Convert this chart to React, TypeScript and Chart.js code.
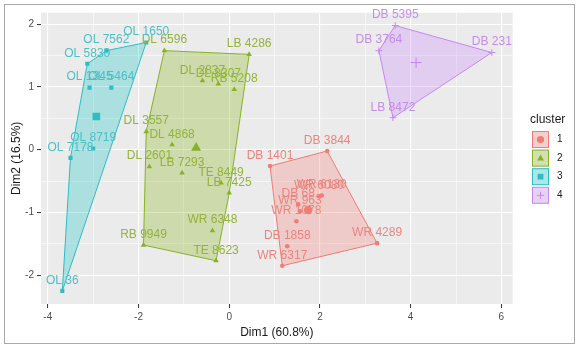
import React, { useEffect, useRef } from 'react';
import { Chart, registerables } from 'chart.js';

Chart.register(...registerables);

// ---- data ----
const COLORS = ['#F07C74', '#88B224', '#2BBFC4', '#C687F5'];
const LABEL_COLORS = ['#EC847D', '#93B33A', '#4BC0C5', '#C48DEC'];
const FILLS = ['rgba(248,118,109,0.27)', 'rgba(124,174,0,0.27)', 'rgba(0,191,196,0.27)', 'rgba(199,124,255,0.27)'];
const CLUSTER_NAMES = ['1', '2', '3', '4'];

const C1_LABELS = ['DB 1401', 'DB 3844', 'WR 6080', 'WR 6130', 'DB 68', 'WR 963', 'WR 1078', 'DB 1858', 'WR 6317', 'WR 4289'];
const C1_X = [0.90, 2.16, 1.98, 2.04, 1.52, 1.56, 1.48, 1.28, 1.17, 3.26];
const C1_Y = [-0.26, -0.02, -0.74, -0.73, -0.87, -0.98, -1.14, -1.54, -1.85, -1.49];
const C1_HULL = ['DB 1401', 'DB 3844', 'WR 4289', 'WR 6317'];

const C2_LABELS = ['DL 6596', 'LB 4286', 'DL 2837', 'DL 8307', 'RB 5208', 'DL 3557', 'DL 4868', 'DL 2601', 'LB 7293', 'TE 8449', 'LB 7425', 'WR 6348', 'TE 8623', 'RB 9949'];
const C2_X = [-1.43, 0.44, -0.59, -0.24, 0.11, -1.83, -1.26, -1.76, -1.04, -0.18, 0.00, -0.37, -0.29, -1.89];
const C2_Y = [1.58, 1.52, 1.10, 1.05, 0.96, 0.29, 0.08, -0.27, -0.37, -0.53, -0.69, -1.29, -1.77, -1.52];
const C2_HULL = ['DL 6596', 'LB 4286', 'LB 7425', 'TE 8623', 'RB 9949', 'DL 3557'];

const C3_LABELS = ['OL 1650', 'OL 7562', 'OL 5830', 'OL 1345', 'OL 5464', 'OL 8719', 'OL 7178', 'OL 36'];
const C3_X = [-1.83, -2.71, -3.13, -3.08, -2.60, -3.00, -3.50, -3.68];
const C3_Y = [1.71, 1.58, 1.37, 0.99, 0.99, 0.02, -0.13, -2.25];
const C3_HULL = ['OL 36', 'OL 7178', 'OL 5830', 'OL 7562', 'OL 1650'];

const C4_LABELS = ['DB 5395', 'DB 3764', 'DB 231', 'LB 8472'];
const C4_X = [3.66, 3.30, 5.79, 3.61];
const C4_Y = [1.98, 1.58, 1.55, 0.51];
const C4_HULL = ['DB 5395', 'DB 231', 'LB 8472', 'DB 3764'];

const CENTER_X = [1.74, -0.73, -2.93, 4.12];
const CENTER_Y = [-0.96, 0.03, 0.53, 1.39];

const X_GRID = [-4, -3, -2, -1, 0, 1, 2, 3, 4, 5, 6];
const X_LABELED = [-4, -2, 0, 2, 4, 6];
const Y_GRID = [-2, -1.5, -1, -0.5, 0, 0.5, 1, 1.5, 2];
const Y_LABELED = [-2, -1, 0, 1, 2];

const X_TITLE = 'Dim1 (60.8%)';
const Y_TITLE = 'Dim2 (16.5%)';
const LEGEND_TITLE = 'cluster';

// ---- styles ----
const FONT = '"Liberation Sans", Arial, Helvetica, sans-serif';
const STYLES = ['circle', 'triangle', 'rect', 'cross'];
const RADII = [2.3, 3.2, 2.9, 3.4];
const CENTER_RADII = [4.3, 5.8, 5.4, 5.5];

const CLUSTERS = [
  { labels: C1_LABELS, xs: C1_X, ys: C1_Y, hull: C1_HULL },
  { labels: C2_LABELS, xs: C2_X, ys: C2_Y, hull: C2_HULL },
  { labels: C3_LABELS, xs: C3_X, ys: C3_Y, hull: C3_HULL },
  { labels: C4_LABELS, xs: C4_X, ys: C4_Y, hull: C4_HULL },
];

function drawGlyph(ctx: CanvasRenderingContext2D, k: number, cx: number, cy: number, r: number) {
  ctx.save();
  ctx.fillStyle = COLORS[k];
  ctx.strokeStyle = COLORS[k];
  ctx.lineWidth = 1;
  ctx.beginPath();
  if (k === 0) {
    ctx.arc(cx, cy, r, 0, Math.PI * 2);
    ctx.fill();
  } else if (k === 1) {
    ctx.moveTo(cx, cy - r);
    ctx.lineTo(cx + r * 0.95, cy + r * 0.7);
    ctx.lineTo(cx - r * 0.95, cy + r * 0.7);
    ctx.closePath();
    ctx.fill();
  } else if (k === 2) {
    ctx.rect(cx - r * 0.8, cy - r * 0.8, r * 1.6, r * 1.6);
    ctx.fill();
  } else {
    ctx.moveTo(cx - r, cy);
    ctx.lineTo(cx + r, cy);
    ctx.moveTo(cx, cy - r);
    ctx.lineTo(cx, cy + r);
    ctx.stroke();
  }
  ctx.restore();
}

const backgroundPlugin = {
  id: 'ggBackground',
  beforeDraw(chart: any) {
    const { ctx, chartArea, width, height } = chart;
    ctx.save();
    ctx.fillStyle = '#FFFFFF';
    ctx.fillRect(0, 0, width, height);
    ctx.fillStyle = '#EBEBEB';
    ctx.fillRect(chartArea.left, chartArea.top, chartArea.right - chartArea.left, chartArea.bottom - chartArea.top);
    ctx.restore();
  },
};

const labelPlugin = {
  id: 'ggPointLabels',
  afterDatasetsDraw(chart: any) {
    const ctx = chart.ctx;
    ctx.save();
    ctx.font = `12px ${FONT}`;
    ctx.textAlign = 'center';
    ctx.textBaseline = 'middle';
    chart.data.datasets.forEach((ds: any, i: number) => {
      if (!ds.pointLabels) return;
      const meta = chart.getDatasetMeta(i);
      ctx.fillStyle = ds.labelColor;
      meta.data.forEach((el: any, j: number) => {
        ctx.fillText(ds.pointLabels[j], el.x, el.y - 10.5);
      });
    });
    ctx.restore();
  },
};

const legendPlugin = {
  id: 'ggLegend',
  afterDraw(chart: any) {
    const ctx: CanvasRenderingContext2D = chart.ctx;
    ctx.save();
    ctx.fillStyle = '#1A1A1A';
    ctx.font = `12px ${FONT}`;
    ctx.textAlign = 'left';
    ctx.textBaseline = 'middle';
    ctx.fillText(LEGEND_TITLE, 530, 120);
    CLUSTER_NAMES.forEach((name, k) => {
      const top = 131 + k * 18.6;
      const left = 532;
      const s = 17;
      ctx.fillStyle = '#F2F2F2';
      ctx.fillRect(left, top, s, s);
      ctx.fillStyle = FILLS[k];
      ctx.fillRect(left + 0.5, top + 0.5, s - 1, s - 1);
      ctx.strokeStyle = COLORS[k];
      ctx.lineWidth = 1;
      ctx.strokeRect(left + 0.5, top + 0.5, s - 1, s - 1);
      drawGlyph(ctx, k, left + s / 2, top + s / 2, 3.6);
      ctx.fillStyle = '#1A1A1A';
      ctx.font = `10px ${FONT}`;
      ctx.fillText(name, 557, top + s / 2);
    });
    // outer frame
    ctx.strokeStyle = '#A8A8A8';
    ctx.lineWidth = 1;
    ctx.strokeRect(4.5, 4.5, 570, 339);
    ctx.restore();
  },
};

export default function App() {
  const ref = useRef<HTMLCanvasElement>(null);
  useEffect(() => {
    if (!ref.current) return;
    Chart.defaults.font.family = FONT;
    const datasets: any[] = [];
    CLUSTERS.forEach((c, k) => {
      const hullPts = c.hull.map((n) => {
        const j = c.labels.indexOf(n);
        return { x: c.xs[j], y: c.ys[j] };
      });
      hullPts.push(hullPts[0]);
      datasets.push({
        data: hullPts,
        showLine: true,
        fill: 'shape',
        backgroundColor: FILLS[k],
        borderColor: COLORS[k],
        borderWidth: 1,
        pointRadius: 0,
        tension: 0,
        order: 3,
      });
      datasets.push({
        data: c.xs.map((x, j) => ({ x, y: c.ys[j] })),
        pointStyle: STYLES[k],
        pointRadius: RADII[k],
        backgroundColor: COLORS[k],
        borderColor: COLORS[k],
        borderWidth: k === 3 ? 1 : 0,
        showLine: false,
        order: 2,
        pointLabels: c.labels,
        labelColor: LABEL_COLORS[k],
      });
      datasets.push({
        data: [{ x: CENTER_X[k], y: CENTER_Y[k] }],
        pointStyle: STYLES[k],
        pointRadius: CENTER_RADII[k],
        backgroundColor: COLORS[k],
        borderColor: COLORS[k],
        borderWidth: k === 3 ? 1 : 0,
        showLine: false,
        order: 1,
      });
    });

    const chart = new Chart(ref.current, {
      type: 'scatter',
      data: { datasets },
      plugins: [backgroundPlugin, labelPlugin, legendPlugin],
      options: {
        animation: false,
        responsive: false,
        devicePixelRatio: 1,
        events: [],
        layout: { padding: { left: 4, right: 67.3, top: 12.7, bottom: 5 } },
        plugins: { legend: { display: false }, tooltip: { enabled: false }, title: { display: false } },
        scales: {
          x: {
            type: 'linear',
            min: -4.15,
            max: 6.25,
            afterBuildTicks: (axis: any) => {
              axis.ticks = X_GRID.map((v) => ({ value: v }));
            },
            afterFit: (scale: any) => {
              scale.height = 41;
            },
            border: { display: false },
            grid: {
              color: '#FFFFFF',
              lineWidth: (ctx: any) => (X_LABELED.includes(ctx.tick?.value) ? 1.1 : 0.55),
              tickColor: (ctx: any) => (X_LABELED.includes(ctx.tick?.value) ? '#333333' : 'rgba(0,0,0,0)'),
              tickWidth: 1,
              tickLength: 4,
              drawTicks: true,
            },
            ticks: {
              autoSkip: false,
              maxRotation: 0,
              padding: 3,
              color: '#4D4D4D',
              font: { size: 10, family: FONT },
              callback: (v: any) => (X_LABELED.includes(Number(v)) ? String(v) : ''),
            },
            title: {
              display: true,
              text: X_TITLE,
              color: '#1A1A1A',
              font: { size: 12, family: FONT },
              padding: { top: 0, bottom: 5 },
            },
          },
          y: {
            type: 'linear',
            min: -2.46,
            max: 2.185,
            afterBuildTicks: (axis: any) => {
              axis.ticks = Y_GRID.map((v) => ({ value: v }));
            },
            afterFit: (scale: any) => {
              scale.width = 37;
            },
            border: { display: false },
            grid: {
              color: '#FFFFFF',
              lineWidth: (ctx: any) => (Y_LABELED.includes(ctx.tick?.value) ? 1.1 : 0.55),
              tickColor: (ctx: any) => (Y_LABELED.includes(ctx.tick?.value) ? '#333333' : 'rgba(0,0,0,0)'),
              tickWidth: 1,
              tickLength: 4,
              drawTicks: true,
            },
            ticks: {
              autoSkip: false,
              padding: 3,
              color: '#4D4D4D',
              font: { size: 10, family: FONT },
              callback: (v: any) => (Y_LABELED.includes(Number(v)) ? String(v) : ''),
            },
            title: {
              display: true,
              text: Y_TITLE,
              color: '#1A1A1A',
              font: { size: 12, family: FONT },
              padding: { top: 5, bottom: 0 },
            },
          },
        },
      } as any,
    });
    return () => chart.destroy();
  }, []);

  return (
    <div style={{ position: 'fixed', left: 0, top: 0, width: 580, height: 350, background: '#FFFFFF' }}>
      <canvas ref={ref} width={580} height={350} style={{ display: 'block', width: 580, height: 350 }} />
    </div>
  );
}
